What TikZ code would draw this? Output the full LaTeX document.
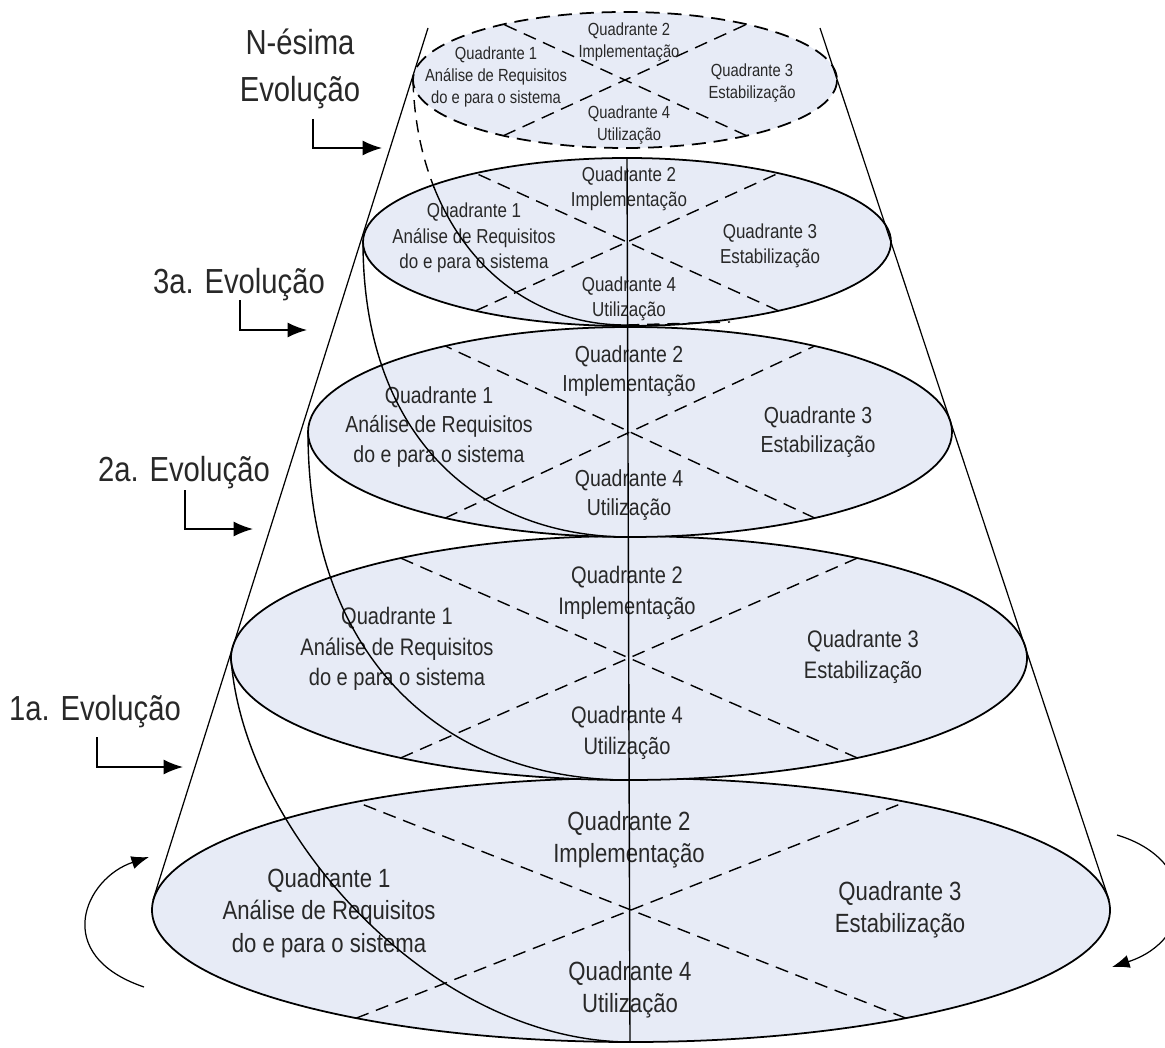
\documentclass[tikz,border=0pt]{standalone}
\usepackage{fontspec}
\newfontfamily\narrowsans{Liberation Sans}[FakeStretch=0.84]
\usetikzlibrary{arrows.meta}
\definecolor{discfill}{RGB}{231,235,246}
\definecolor{inkgray}{RGB}{40,40,40}

\begin{document}
\begin{tikzpicture}[x=0.02cm, y=-0.02cm,
  disc/.style={draw=black, line width=1pt, fill=discfill},
  topdisc/.style={draw=black, line width=1pt, fill=discfill, dash pattern=on 8pt off 4.5pt},
  cross/.style={draw=black, line width=0.8pt, dash pattern=on 7.5pt off 4.5pt},
  coil/.style={draw=black, line width=0.8pt},
  coilhidden/.style={coil, dash pattern=on 7pt off 4.5pt},
  coneline/.style={draw=black, line width=0.7pt},
  axisline/.style={draw=black, line width=0.8pt},
  pointer/.style={draw=black, line width=0.9pt, -{Latex[length=11pt,width=8.5pt]}},
  turn/.style={draw=black, line width=0.7pt, -{Latex[length=10pt,width=7.5pt]}},
  evo/.style={font=\narrowsans\fontsize{19.8}{26.5}\selectfont, text=inkgray, align=center, inner sep=0pt},
  qa/.style={font=\narrowsans\fontsize{15}{18.4}\selectfont, text=inkgray, align=center, inner sep=0pt},
  qb/.style={font=\narrowsans\fontsize{13.6}{17.3}\selectfont, text=inkgray, align=center, inner sep=0pt},
  qc/.style={font=\narrowsans\fontsize{13.2}{17}\selectfont, text=inkgray, align=center, inner sep=0pt},
  qd/.style={font=\narrowsans\fontsize{11.5}{14.5}\selectfont, text=inkgray, align=center, inner sep=0pt},
  qe/.style={font=\narrowsans\fontsize{10}{12.7}\selectfont, text=inkgray, align=center, inner sep=0pt},
]
\useasboundingbox (0,0) rectangle (1165,1047);
\clip (0,0) rectangle (1165,1047);

% centres of the five levels, bottom to top
\coordinate (c1) at (631,910);
\coordinate (c2) at (629,658);
\coordinate (c3) at (630,432);
\coordinate (c4) at (627,242);
\coordinate (c5) at (625,80);

% discs
\path[disc] (c1) ellipse [x radius=479, y radius=132];
\path[disc] (c2) ellipse [x radius=398, y radius=122];
\path[disc] (c3) ellipse [x radius=322, y radius=105];
\path[disc] (c4) ellipse [x radius=264, y radius=84];
\path[topdisc] (c5) ellipse [x radius=212, y radius=68];

% quadrant dividers
\draw[cross] (c1) ++(125:479 and 132) -- (c1) -- ++(305:479 and 132);
\draw[cross] (c1) ++(55:479 and 132) -- (c1) -- ++(235:479 and 132);
\draw[cross] (c2) ++(125:398 and 122) -- (c2) -- ++(305:398 and 122);
\draw[cross] (c2) ++(55:398 and 122) -- (c2) -- ++(235:398 and 122);
\draw[cross] (c3) ++(125:322 and 105) -- (c3) -- ++(305:322 and 105);
\draw[cross] (c3) ++(55:322 and 105) -- (c3) -- ++(235:322 and 105);
\draw[cross] (c4) ++(125:264 and 84) -- (c4) -- ++(305:264 and 84);
\draw[cross] (c4) ++(55:264 and 84) -- (c4) -- ++(235:264 and 84);
\draw[cross] (c5) ++(125:212 and 68) -- (c5) -- ++(305:212 and 68);
\draw[cross] (c5) ++(55:212 and 68) -- (c5) -- ++(235:212 and 68);

% quadrant texts, level 1
\node[qa] (q11) at (329,913) {Quadrante 1\\Análise de Requisitos\\do e para o sistema};
\node[qa] (q12) at (629,840) {Quadrante 2\\Implementação};
\node[qa] (q13) at (900,910) {Quadrante 3\\Estabilização};
\node[qa] (q14) at (630,990) {Quadrante 4\\Utilização};
% level 2
\node[qb] (q21) at (397,649) {Quadrante 1\\Análise de Requisitos\\do e para o sistema};
\node[qb] (q22) at (627,593) {Quadrante 2\\Implementação};
\node[qb] (q23) at (863,657) {Quadrante 3\\Estabilização};
\node[qb] (q24) at (627,733) {Quadrante 4\\Utilização};
% level 3
\node[qc] (q31) at (439,427) {Quadrante 1\\Análise de Requisitos\\do e para o sistema};
\node[qc] (q32) at (629,371) {Quadrante 2\\Implementação};
\node[qc] (q33) at (818,432) {Quadrante 3\\Estabilização};
\node[qc] (q34) at (629,495) {Quadrante 4\\Utilização};
% level 4
\node[qd] (q41) at (474,238) {Quadrante 1\\Análise de Requisitos\\do e para o sistema};
\node[qd] (q42) at (629,189) {Quadrante 2\\Implementação};
\node[qd] (q43) at (770,246) {Quadrante 3\\Estabilização};
\node[qd] (q44) at (629,299) {Quadrante 4\\Utilização};
% level N
\node[qe] (q51) at (496,77) {Quadrante 1\\Análise de Requisitos\\do e para o sistema};
\node[qe] (q52) at (629,42) {Quadrante 2\\Implementação};
\node[qe] (q53) at (752,83) {Quadrante 3\\Estabilização};
\node[qe] (q54) at (629,125) {Quadrante 4\\Utilização};

% central axis
\coordinate (axtop) at (627,158);
\coordinate (axbot) at (630,1042);
\draw[axisline] (axtop) -- (axbot);

% cone sides
\coordinate (lt) at (428,28);
\coordinate (lb) at (153,900);
\coordinate (rt) at (820,28);
\coordinate (rb) at (1109,900);
\draw[coneline] (lt) -- (lb);
\draw[coneline] (rt) -- (rb);

% spiral: from the left rim of each level down to the front of the level below
\coordinate (s1a) at (231,658);
\coordinate (s1d) at (631,1042);
\draw[coil] (s1a) .. controls (243,831) and (431,1042) .. (s1d);
\coordinate (s2a) at (308,432);
\coordinate (s2d) at (629,780);
\draw[coil] (s2a) .. controls (308,658) and (443,780) .. (s2d);
\coordinate (s3a) at (363,242);
\coordinate (s3d) at (630,537);
\draw[coil] (s3a) .. controls (363,434) and (475,537) .. (s3d);
\coordinate (s4a) at (413,80);
\coordinate (s4d) at (627,325);
\begin{scope}
  \clip (380,0) rectangle (700,188);
  \draw[coilhidden] (s4a) .. controls (417,228) and (509,326) .. (s4d);
\end{scope}
\begin{scope}
  \clip (380,188) rectangle (700,400);
  \draw[coil] (s4a) .. controls (417,228) and (509,326) .. (s4d);
\end{scope}
\coordinate (s4e) at (730,322);
\draw[coilhidden] (s4d) -- (s4e);

% level labels with their pointers
\node[evo] (lblN) at (300,69) {N-ésima\\Evolução};
\node[evo] (lbl3) at (239,285) {3a. Evolução};
\node[evo] (lbl2) at (184,473) {2a. Evolução};
\node[evo] (lbl1) at (95,712) {1a. Evolução};
\coordinate (pN0) at (313,119); \coordinate (pN1) at (382,148);
\coordinate (p30) at (240,300); \coordinate (p31) at (307,330);
\coordinate (p20) at (185,490); \coordinate (p21) at (253,529);
\coordinate (p10) at (97,737);  \coordinate (p11) at (183,767);
\draw[pointer] (pN0) |- (pN1);
\draw[pointer] (p30) |- (p31);
\draw[pointer] (p20) |- (p21);
\draw[pointer] (p10) |- (p11);

% rotation arrows round the base
\coordinate (tl0) at (144,987); \coordinate (tl1) at (149,857);
\draw[turn] (tl0) .. controls (50,955) and (85,878) .. (tl1);
\coordinate (tr0) at (1117,835); \coordinate (tr1) at (1112,967);
\draw[turn] (tr0) .. controls (1200,860) and (1195,940) .. (tr1);
\end{tikzpicture}
\end{document}
